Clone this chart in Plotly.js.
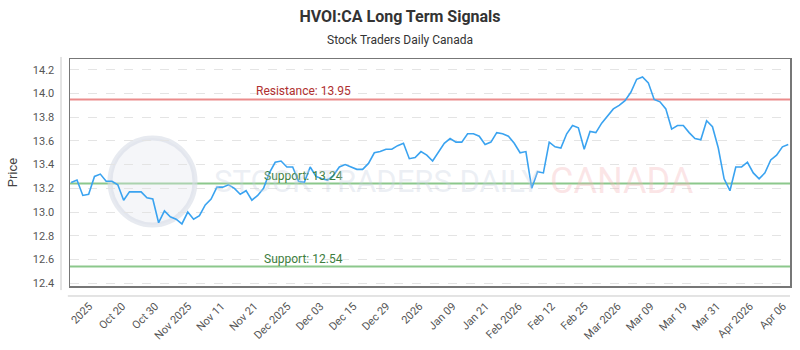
<!DOCTYPE html>
<html><head><meta charset="utf-8">
<script src="https://cdn.plot.ly/plotly-3.0.1.min.js"></script>
<style>html,body{margin:0;padding:0;background:#fff}#chart{width:800px;height:350px}</style>
</head><body><div id="chart"></div>
<script>
const prices = [13.25,13.27,13.14,13.15,13.30,13.32,13.26,13.26,13.23,13.10,
13.17,13.17,13.17,13.12,13.11,12.91,13.01,12.96,12.94,12.90,
13.00,12.94,12.97,13.06,13.11,13.21,13.21,13.23,13.20,13.15,
13.18,13.10,13.14,13.20,13.33,13.42,13.43,13.38,13.38,13.26,
13.25,13.38,13.30,13.28,13.27,13.31,13.38,13.40,13.38,13.36,
13.36,13.41,13.50,13.51,13.53,13.53,13.56,13.58,13.45,13.46,
13.51,13.48,13.43,13.51,13.58,13.62,13.59,13.59,13.66,13.66,
13.64,13.57,13.59,13.67,13.66,13.64,13.58,13.50,13.51,13.20,
13.34,13.33,13.59,13.55,13.54,13.66,13.73,13.71,13.53,13.68,
13.67,13.75,13.81,13.87,13.90,13.94,14.01,14.12,14.14,14.09,
13.95,13.93,13.87,13.70,13.73,13.73,13.67,13.62,13.61,13.77,
13.72,13.54,13.28,13.18,13.38,13.38,13.42,13.33,13.28,13.33,
13.44,13.48,13.55,13.57];
const tickLabels = ['2025','Oct 20','Oct 30','Nov 2025','Nov 11','Nov 21','Dec 2025','Dec 03','Dec 15','Dec 29','2026','Jan 09','Jan 21','Feb 2026','Feb 12','Feb 25','Mar 2026','Mar 09','Mar 19','Mar 31','Apr 2026','Apr 06'];
const resistance = 13.95;
const supports = [13.24, 12.54];
const yTicks = [12.4,12.6,12.8,13.0,13.2,13.4,13.6,13.8,14.0,14.2];

const idx = prices.map((_, i) => i);
const firstTick = 3.1, tickStep = (122.1 - 3.1) / (tickLabels.length - 1);
const tickVals = tickLabels.map((_, i) => firstTick + i * tickStep);

const FONT = 'Roboto, sans-serif';
const shapes = [];
shapes.push({type:'line', xref:'paper', yref:'y', x0:0, x1:1, y0:resistance, y1:resistance,
  line:{color:'rgba(232,120,120,0.85)', width:2}, layer:'below'});
supports.forEach(s => shapes.push({type:'line', xref:'paper', yref:'y', x0:0, x1:1, y0:s, y1:s,
  line:{color:'rgba(120,190,120,0.85)', width:2}, layer:'below'}));
// offset axis lines
shapes.push({type:'line', xref:'paper', yref:'paper', x0:-0.0125, x1:-0.0125, y0:-0.018, y1:1.009,
  line:{color:'#c8c8c8', width:1}});
shapes.push({type:'line', xref:'paper', yref:'paper', x0:-0.003, x1:1.0, y0:-0.044, y1:-0.044,
  line:{color:'#c8c8c8', width:1}});
// watermark logo circle
shapes.push({type:'circle', xref:'paper', yref:'paper', x0:(110-70)/720, x1:(195-70)/720,
  y0:(286-225)/227, y1:(286-138)/227, fillcolor:'rgba(225,230,238,0.35)',
  line:{color:'rgba(215,220,230,0.6)', width:5}, layer:'below'});

const annotations = [
  {xref:'paper', yref:'paper', x:(400-70)/720, xanchor:'center', y:(286-40)/227, yanchor:'middle',
   text:'Stock Traders Daily Canada', showarrow:false, font:{family:FONT, size:12, color:'#333'}},
  {xref:'paper', yref:'y', x:0.324, xanchor:'center', y:resistance, text:'Resistance: 13.95', showarrow:false,
   yanchor:'bottom', yshift:-1, font:{family:FONT, size:12, color:'#b03030'}},
  {xref:'paper', yref:'y', x:0.324, xanchor:'center', y:supports[0], text:'Support: 13.24', showarrow:false,
   yanchor:'bottom', yshift:-1, font:{family:FONT, size:12, color:'#3d7d3d'}},
  {xref:'paper', yref:'y', x:0.324, xanchor:'center', y:supports[1], text:'Support: 12.54', showarrow:false,
   yanchor:'bottom', yshift:-1, font:{family:FONT, size:12, color:'#3d7d3d'}},
  {xref:'paper', yref:'paper', x:(377-70)/720, xanchor:'center', y:(286-181)/227, yanchor:'middle',
   text:'STOCK TRADERS DAILY', showarrow:false,
   font:{family:FONT, size:31, color:'rgba(200,210,225,0.35)'}},
  {xref:'paper', yref:'paper', x:(622-70)/720, xanchor:'center', y:(286-181)/227, yanchor:'middle',
   text:'CANADA', showarrow:false,
   font:{family:FONT, size:36, color:'rgba(245,180,185,0.35)'}}
];

const data = [{
  x: idx, y: prices, type:'scatter', mode:'lines',
  line:{color:'#3aa3f0', width:1.6}, hoverinfo:'skip'
}];

const layout = {
  width:800, height:350,
  margin:{l:70, r:10, t:59, b:64},
  paper_bgcolor:'#fff', plot_bgcolor:'#fff',
  showlegend:false,
  title:{text:'<b>HVOI:CA Long Term Signals</b>', x:0.5, xanchor:'center',
    yref:'container', y:1 - 16/350, yanchor:'middle', font:{family:FONT, size:16, color:'#333'}},
  xaxis:{range:[-0.2, 123.3], tickvals:tickVals, ticktext:tickLabels, tickangle:-45,
    showgrid:false, zeroline:false, showline:true, mirror:true, linecolor:'#777', linewidth:1.5,
    ticks:'', ticklabelstandoff:8, tickfont:{family:FONT, size:11, color:'#555'}},
  yaxis:{range:[12.376, 14.291], tickvals:yTicks, ticktext:yTicks.map(v=>v.toFixed(1)),
    showgrid:true, gridcolor:'#e4e4e4', griddash:'dash', gridwidth:1, zeroline:false,
    showline:true, mirror:true, linecolor:'#777', linewidth:1.5,
    ticks:'', ticklabelstandoff:12, tickfont:{family:FONT, size:11, color:'#555'},
    title:{text:'Price', font:{family:FONT, size:13, color:'#444'}, standoff:12}},
  shapes: shapes,
  annotations: annotations
};
Plotly.newPlot('chart', data, layout, {staticPlot:true, displayModeBar:false});
</script></body></html>
